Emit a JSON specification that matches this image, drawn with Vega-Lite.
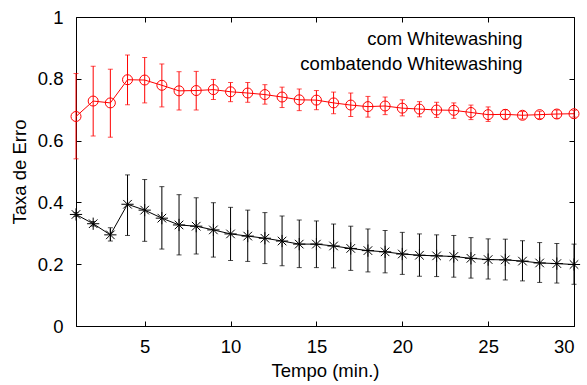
{
  "$schema": "https://vega.github.io/schema/vega-lite/v6.json",
  "width": 498,
  "height": 309,
  "autosize": "none",
  "padding": {"left": 76, "top": 17, "right": 13, "bottom": 59},
  "data": {"values": [
    {"t":1,"s":"com Whitewashing","y":0.678,"lo":0.541,"hi":0.817},
    {"t":2,"s":"com Whitewashing","y":0.728,"lo":0.615,"hi":0.841},
    {"t":3,"s":"com Whitewashing","y":0.722,"lo":0.611,"hi":0.831},
    {"t":4,"s":"com Whitewashing","y":0.797,"lo":0.716,"hi":0.877},
    {"t":5,"s":"com Whitewashing","y":0.796,"lo":0.722,"hi":0.869},
    {"t":6,"s":"com Whitewashing","y":0.779,"lo":0.709,"hi":0.848},
    {"t":7,"s":"com Whitewashing","y":0.761,"lo":0.699,"hi":0.823},
    {"t":8,"s":"com Whitewashing","y":0.762,"lo":0.699,"hi":0.824},
    {"t":9,"s":"com Whitewashing","y":0.765,"lo":0.733,"hi":0.798},
    {"t":10,"s":"com Whitewashing","y":0.758,"lo":0.726,"hi":0.788},
    {"t":11,"s":"com Whitewashing","y":0.754,"lo":0.724,"hi":0.788},
    {"t":12,"s":"com Whitewashing","y":0.749,"lo":0.718,"hi":0.781},
    {"t":13,"s":"com Whitewashing","y":0.741,"lo":0.707,"hi":0.773},
    {"t":14,"s":"com Whitewashing","y":0.732,"lo":0.697,"hi":0.767},
    {"t":15,"s":"com Whitewashing","y":0.731,"lo":0.700,"hi":0.762},
    {"t":16,"s":"com Whitewashing","y":0.722,"lo":0.687,"hi":0.757},
    {"t":17,"s":"com Whitewashing","y":0.715,"lo":0.678,"hi":0.754},
    {"t":18,"s":"com Whitewashing","y":0.710,"lo":0.676,"hi":0.743},
    {"t":19,"s":"com Whitewashing","y":0.712,"lo":0.684,"hi":0.741},
    {"t":20,"s":"com Whitewashing","y":0.705,"lo":0.680,"hi":0.732},
    {"t":21,"s":"com Whitewashing","y":0.702,"lo":0.677,"hi":0.726},
    {"t":22,"s":"com Whitewashing","y":0.699,"lo":0.675,"hi":0.724},
    {"t":23,"s":"com Whitewashing","y":0.698,"lo":0.672,"hi":0.722},
    {"t":24,"s":"com Whitewashing","y":0.691,"lo":0.668,"hi":0.715},
    {"t":25,"s":"com Whitewashing","y":0.684,"lo":0.662,"hi":0.709},
    {"t":26,"s":"com Whitewashing","y":0.685,"lo":0.668,"hi":0.700},
    {"t":27,"s":"com Whitewashing","y":0.682,"lo":0.670,"hi":0.694},
    {"t":28,"s":"com Whitewashing","y":0.684,"lo":0.671,"hi":0.695},
    {"t":29,"s":"com Whitewashing","y":0.686,"lo":0.672,"hi":0.699},
    {"t":30,"s":"com Whitewashing","y":0.687,"lo":0.676,"hi":0.698},
    {"t":1,"s":"combatendo Whitewashing","y":0.361,"lo":0.355,"hi":0.367},
    {"t":2,"s":"combatendo Whitewashing","y":0.331,"lo":0.324,"hi":0.338},
    {"t":3,"s":"combatendo Whitewashing","y":0.295,"lo":0.275,"hi":0.318},
    {"t":4,"s":"combatendo Whitewashing","y":0.394,"lo":0.293,"hi":0.489},
    {"t":5,"s":"combatendo Whitewashing","y":0.375,"lo":0.274,"hi":0.474},
    {"t":6,"s":"combatendo Whitewashing","y":0.349,"lo":0.249,"hi":0.451},
    {"t":7,"s":"combatendo Whitewashing","y":0.327,"lo":0.230,"hi":0.425},
    {"t":8,"s":"combatendo Whitewashing","y":0.323,"lo":0.233,"hi":0.415},
    {"t":9,"s":"combatendo Whitewashing","y":0.311,"lo":0.223,"hi":0.399},
    {"t":10,"s":"combatendo Whitewashing","y":0.298,"lo":0.212,"hi":0.384},
    {"t":11,"s":"combatendo Whitewashing","y":0.291,"lo":0.209,"hi":0.375},
    {"t":12,"s":"combatendo Whitewashing","y":0.284,"lo":0.202,"hi":0.367},
    {"t":13,"s":"combatendo Whitewashing","y":0.275,"lo":0.195,"hi":0.356},
    {"t":14,"s":"combatendo Whitewashing","y":0.265,"lo":0.189,"hi":0.343},
    {"t":15,"s":"combatendo Whitewashing","y":0.265,"lo":0.189,"hi":0.340},
    {"t":16,"s":"combatendo Whitewashing","y":0.259,"lo":0.188,"hi":0.330},
    {"t":17,"s":"combatendo Whitewashing","y":0.251,"lo":0.180,"hi":0.323},
    {"t":18,"s":"combatendo Whitewashing","y":0.244,"lo":0.175,"hi":0.314},
    {"t":19,"s":"combatendo Whitewashing","y":0.240,"lo":0.172,"hi":0.309},
    {"t":20,"s":"combatendo Whitewashing","y":0.233,"lo":0.167,"hi":0.303},
    {"t":21,"s":"combatendo Whitewashing","y":0.229,"lo":0.161,"hi":0.298},
    {"t":22,"s":"combatendo Whitewashing","y":0.227,"lo":0.160,"hi":0.295},
    {"t":23,"s":"combatendo Whitewashing","y":0.225,"lo":0.158,"hi":0.293},
    {"t":24,"s":"combatendo Whitewashing","y":0.219,"lo":0.155,"hi":0.286},
    {"t":25,"s":"combatendo Whitewashing","y":0.215,"lo":0.152,"hi":0.282},
    {"t":26,"s":"combatendo Whitewashing","y":0.214,"lo":0.149,"hi":0.281},
    {"t":27,"s":"combatendo Whitewashing","y":0.210,"lo":0.146,"hi":0.276},
    {"t":28,"s":"combatendo Whitewashing","y":0.204,"lo":0.141,"hi":0.270},
    {"t":29,"s":"combatendo Whitewashing","y":0.202,"lo":0.139,"hi":0.267},
    {"t":30,"s":"combatendo Whitewashing","y":0.199,"lo":0.135,"hi":0.265}
  ]},
  "resolve": {"axis": {"x": "independent", "y": "independent"}},
  "layer": [
    {
      "mark": {"type": "point", "filled": false, "strokeWidth": 1, "opacity": 1},
      "encoding": {
        "x": {"field": "t", "type": "quantitative", "scale": {"domain": [1, 30], "nice": false, "zero": false}, "axis": null},
        "y": {"field": "y", "type": "quantitative", "scale": {"domain": [0, 1], "nice": false}, "axis": null},
        "color": {"field": "s", "type": "nominal",
                  "scale": {"domain": ["com Whitewashing", "combatendo Whitewashing"], "range": ["#ff0000", "#000000"]},
                  "legend": {"title": null, "orient": "none", "legendX": 463, "legendY": 9, "padding": 0, "offset": 0,
                             "clipHeight": 25, "rowPadding": 0, "labelAlign": "right", "labelOffset": -35,
                             "labelFont": "Liberation Sans", "labelFontSize": 18.5, "labelColor": "black", "labelLimit": 400}},
        "shape": {"field": "s", "type": "nominal", "scale": {"domain": ["com Whitewashing", "combatendo Whitewashing"], "range": ["circle", "M-1,0L1,0M0,-1L0,1M-0.7,-0.7L0.7,0.7M-0.7,0.7L0.7,-0.7"]}, "legend": null},
        "size": {"field": "s", "type": "nominal", "scale": {"domain": ["com Whitewashing", "combatendo Whitewashing"], "range": [100, 150]}, "legend": null}
      }
    },
    {
      "mark": {"type": "line", "strokeWidth": 1},
      "encoding": {
        "x": {"field": "t", "type": "quantitative",
              "axis": {"orient": "bottom", "values": [5,10,15,20,25,30], "tickSize": -5, "labelPadding": 16, "title": "Tempo (min.)", "titlePadding": 6}},
        "y": {"field": "y", "type": "quantitative",
              "axis": {"orient": "left", "values": [0,0.2,0.4,0.6,0.8,1], "format": ".1~f", "tickSize": -5, "labelPadding": 18, "title": "Taxa de Erro", "titlePadding": 8}},
        "color": {"field": "s", "type": "nominal"}
      }
    },
    {
      "mark": {"type": "rule", "strokeWidth": 1},
      "encoding": {
        "x": {"field": "t", "type": "quantitative",
              "axis": {"orient": "top", "values": [5,10,15,20,25,30], "tickSize": -5, "labels": false, "domain": false, "title": null}},
        "y": {"field": "lo", "type": "quantitative",
              "axis": {"orient": "right", "values": [0,0.2,0.4,0.6,0.8,1], "tickSize": -5, "labels": false, "domain": false, "title": null}},
        "y2": {"field": "hi"},
        "color": {"field": "s", "type": "nominal"}
      }
    },
    {
      "mark": {"type": "tick", "orient": "horizontal", "size": 5, "thickness": 1},
      "encoding": {
        "x": {"field": "t", "type": "quantitative", "axis": null},
        "y": {"field": "lo", "type": "quantitative", "axis": null},
        "color": {"field": "s", "type": "nominal"}
      }
    },
    {
      "mark": {"type": "tick", "orient": "horizontal", "size": 5, "thickness": 1},
      "encoding": {
        "x": {"field": "t", "type": "quantitative", "axis": null},
        "y": {"field": "hi", "type": "quantitative", "axis": null},
        "color": {"field": "s", "type": "nominal"}
      }
    }
  ],
  "config": {
    "font": "Liberation Sans",
    "view": {"stroke": "black", "strokeWidth": 1},
    "axis": {"grid": false, "domainColor": "black", "tickColor": "black", "labelColor": "black", "titleColor": "black",
             "labelFont": "Liberation Sans", "titleFont": "Liberation Sans", "labelFontSize": 18.5, "titleFontSize": 18.5,
             "titleFontWeight": "normal", "domainWidth": 1, "tickWidth": 1}
  }
}
